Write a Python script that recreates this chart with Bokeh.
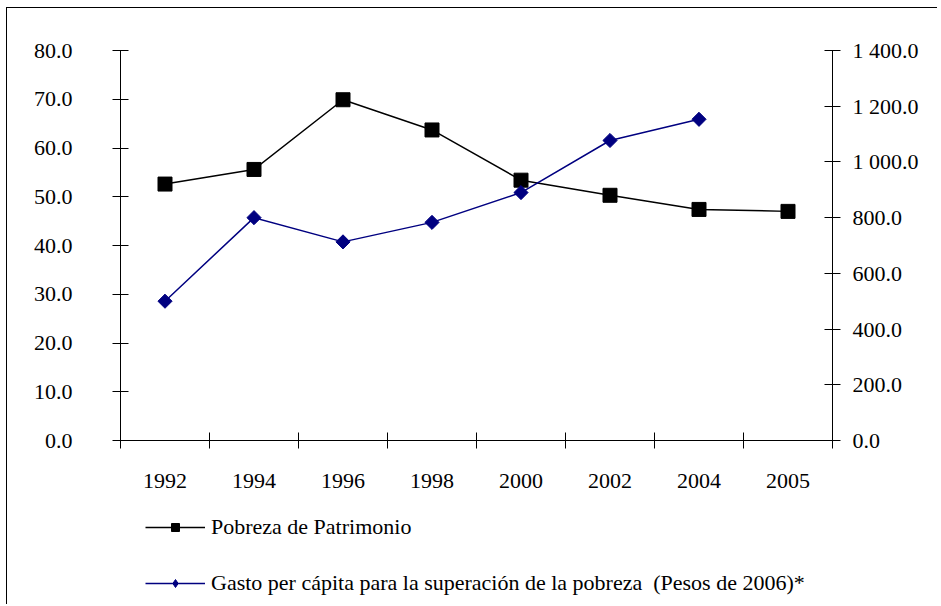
import math
from bokeh.plotting import figure
from bokeh.layouts import column
from bokeh.models import (LinearAxis, Range1d, FixedTicker, Legend, LegendItem,
                          NumeralTickFormatter)
from bokeh.embed import file_html
from bokeh.resources import INLINE

years = ["1992", "1994", "1996", "1998", "2000", "2002", "2004", "2005"]
pobreza = [52.6, 55.6, 69.9, 63.7, 53.4, 50.3, 47.4, 47.0]
gasto = [500.0, 800.0, 713.0, 783.0, 890.0, 1077.0, 1153.0]
left_ticks = [0, 10, 20, 30, 40, 50, 60, 70, 80]
right_ticks = [0, 200, 400, 600, 800, 1000, 1200, 1400]
label_pobreza = "Pobreza de Patrimonio"
label_gasto = "Gasto per cápita para la superación de la pobreza  (Pesos de 2006)*"

FONT = "Liberation Serif"
FS = "22px"
W = 930

xs_p = [i + 0.5 for i in range(len(pobreza))]
xs_g = [i + 0.5 for i in range(len(gasto))]

p = figure(width=W, height=492, output_backend="svg", toolbar_location=None,
           x_range=Range1d(0, len(years)), y_range=Range1d(0, 80),
           min_border_left=113, min_border_right=105, min_border_top=42,
           min_border_bottom=60, x_axis_type=None, y_axis_type=None)
p.outline_line_color = None
p.grid.visible = False
p.background_fill_color = "white"
p.border_fill_color = "white"
p.extra_y_ranges = {"right": Range1d(0, 1400)}

def style_axis(ax):
    ax.axis_line_color = "black"
    ax.axis_line_width = 1
    ax.major_tick_line_color = "black"
    ax.major_tick_in = 8
    ax.major_tick_out = 8
    ax.minor_tick_line_color = None
    ax.major_label_text_font = FONT
    ax.major_label_text_font_size = FS
    ax.major_label_text_color = "black"

yl = LinearAxis(ticker=FixedTicker(ticks=left_ticks),
                formatter=NumeralTickFormatter(format="0.0"))
style_axis(yl)
yl.major_label_standoff = 40
p.add_layout(yl, "left")

yr = LinearAxis(y_range_name="right", ticker=FixedTicker(ticks=right_ticks))
style_axis(yr)
yr.major_label_standoff = 12
yr.major_label_overrides = {v: f"{v:,.1f}".replace(",", " ") for v in right_ticks}
p.add_layout(yr, "right")

centers = [i + 0.5 for i in range(len(years))]
bounds = [i for i in range(len(years) + 1)]
xa = LinearAxis(ticker=FixedTicker(ticks=centers, minor_ticks=bounds))
style_axis(xa)
xa.major_tick_line_color = None
xa.minor_tick_line_color = "black"
xa.minor_tick_in = 8
xa.minor_tick_out = 8
xa.major_label_standoff = 25
xa.major_label_overrides = {c: y for c, y in zip(centers, years)}
p.add_layout(xa, "below")

BLACK_LINE = dict(line_color="black", line_width=1.5)
BLUE_LINE = dict(line_color="#000080", line_width=1.5)
SQ = dict(marker="square", size=14, fill_color="black", line_color="black")
DI = dict(marker="square", size=10, angle=math.pi / 4,
          fill_color="#000080", line_color="#000080")

p.line(xs_p, pobreza, **BLACK_LINE)
p.scatter(xs_p, pobreza, **SQ)
p.line(xs_g, gasto, y_range_name="right", **BLUE_LINE)
p.scatter(xs_g, gasto, y_range_name="right", **DI)

# legend panel below the chart (its own frame, not aligned with the chart's)
q = figure(width=W, height=104, output_backend="svg", toolbar_location=None,
           x_range=Range1d(0, 1), y_range=Range1d(-2, -1),
           min_border_left=0, min_border_right=0, min_border_top=0,
           min_border_bottom=0, x_axis_type=None, y_axis_type=None)
q.frame_align = False
q.outline_line_color = None
q.grid.visible = False
q.background_fill_color = "white"
q.border_fill_color = "white"
ql1 = q.line(xs_p, pobreza, **BLACK_LINE)
qs1 = q.scatter(xs_p, pobreza, marker="square", size=12,
                fill_color="black", line_color="black")
ql2 = q.line(xs_g, gasto, **BLUE_LINE)
qs2 = q.scatter(xs_g, gasto, marker="diamond", size=18,
                fill_color="#000080", line_color="#000080")

legend = Legend(items=[
    LegendItem(label=label_pobreza, renderers=[ql1, qs1]),
    LegendItem(label=label_gasto, renderers=[ql2, qs2]),
], location=(138, 8))
legend.border_line_color = None
legend.background_fill_alpha = 0
legend.padding = 0
legend.margin = 0
legend.spacing = 30
legend.glyph_width = 60
legend.glyph_height = 20
legend.label_standoff = 6
legend.label_text_font = FONT
legend.label_text_font_size = FS
legend.label_text_color = "black"
legend.label_height = 20
q.add_layout(legend, "center")

layout = column(p, q, spacing=0,
                styles={"border-left": "1px solid black", "border-top": "1px solid black",
                        "margin-left": "6px", "margin-top": "7px"})

open("out.html", "w").write(file_html(layout, INLINE))
